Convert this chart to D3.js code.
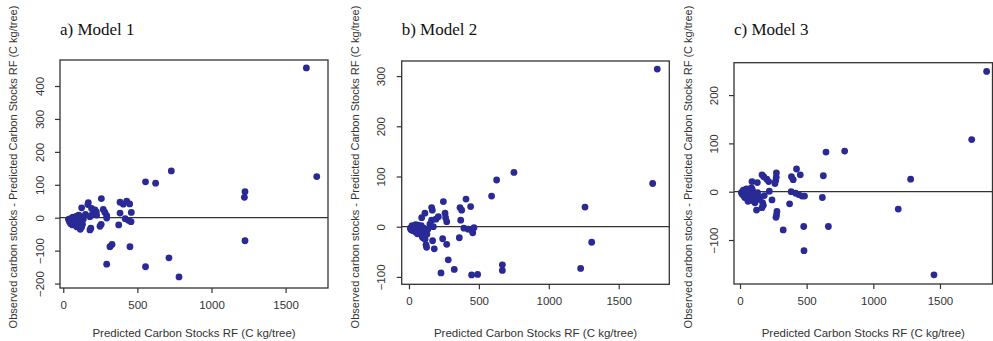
<!DOCTYPE html>
<html>
<head>
<meta charset="utf-8">
<script src="https://cdn.jsdelivr.net/npm/d3@7"></script>
<style>
  body { margin: 0; background: #fff; }
  svg { display: block; }
</style>
</head>
<body>
<svg id="chart" width="993" height="341"></svg>
<script>
// panel titles and axis labels
const titles = ["a) Model 1", "b) Model 2", "c) Model 3"];
const xLabel = "Predicted Carbon Stocks RF (C kg/tree)";
const yLabel = "Observed carbon stocks - Predicted Carbon Stocks RF (C kg/tree)";

// tick values
const xTicks = [0, 500, 1000, 1500];
const yTicksA = [-200, -100, 0, 100, 200, 300, 400];
const yTicksB = [-100, 0, 100, 200, 300];
const yTicksC = [-100, 0, 100, 200];

// [predicted, residual]
const residA = [[1640,455],[1710,125],[1226,79],[1222,62],[1226,-70],[729,142],[555,109],[623,105],
  [713,-122],[781,-180],[555,-149],[293,-141],[450,-88],[315,-88],[329,-81],
  [257,58],[169,46],[166,40],[124,30],[191,28],[214,24],[223,18],[270,25],[281,16],[293,6],[293,-1],
  [383,47],[405,41],[428,50],[448,42],[459,16],[383,14],[418,-3],[439,-8],[457,-12],[374,-22],
  [256,-20],[248,-26],[186,-32],[180,-37],[124,-28],[225,8],[180,3],[196,10],[150,10],
  [35,-5],[42,-12],[48,-3],[55,-15],[60,-8],[65,2],[70,-18],[75,-6],[80,-22],[85,-10],[90,5],
  [95,-14],[100,-3],[105,-25],[110,-30],[115,-8],[120,-16],[125,2],[130,-20],[135,-5],[50,-18],
  [62,-22],[78,-12],[92,-28],[105,8],[115,-35],[68,-10],[45,-8]];

const residB = [[1776,314],[1743,86],[1259,39],[1307,-31],[1228,-83],[751,108],[627,93],[591,61],
  [668,-76],[668,-87],[448,-96],[491,-95],[324,-85],[229,-92],[281,-66],
  [408,55],[441,40],[365,38],[377,33],[370,13],[393,-3],[424,-5],[448,-7],[465,-2],[456,-12],[360,-22],
  [246,50],[162,38],[167,33],[114,27],[91,18],[210,20],[193,15],[258,27],[262,18],[270,10],[162,13],
  [150,5],[174,0],[241,-24],[270,-35],[169,-28],[181,-44],[122,-36],[126,-41],
  [10,-3],[15,-6],[22,2],[28,-8],[35,-4],[40,1],[45,-10],[52,-2],[58,-6],[65,3],[70,-12],[78,-5],
  [85,-15],[90,-8],[95,-20],[100,-12],[105,-3],[110,-18],[115,-25],[120,-10],[128,-15],[135,-5],
  [60,-14],[30,0],[48,4],[100,-22],[88,2]];

const residC = [[1850,249],[1738,108],[1280,26],[1187,-36],[1455,-172],[785,84],[645,82],[625,33],
  [618,-12],[663,-72],[478,-72],[480,-122],[324,-79],
  [424,47],[386,31],[399,25],[452,35],[384,0],[418,-3],[440,-6],[465,-9],[484,-9],[372,-25],[240,-17],
  [273,39],[272,30],[268,23],[262,17],[277,-41],[274,-48],[270,-53],
  [165,35],[178,31],[201,26],[215,21],[130,19],[90,21],[220,1],[182,-8],[170,-23],[175,-28],[165,-33],
  [124,-38],[100,-17],[112,-23],
  [10,-2],[18,-6],[25,3],[30,-8],[38,2],[42,-4],[48,6],[52,-10],[58,-2],[62,4],[68,-14],[72,-6],[78,0],
  [82,-18],[88,-10],[92,5],[98,-4],[105,-12],[110,-20],[118,-6],[125,-14],[132,-2],[140,-10],[150,-16],
  [35,-12],[60,-20],[85,8],[20,0]];

const dotColor = "#2a2a96",
    axisColor = "#333";

// plot boxes in page pixels, with the axis domains they show
const panels = [
  {title: titles[0], data: residA, yTicks: yTicksA, box: {l: 60, r: 328, t: 60, b: 288},
   xDom: [-22, 1786], yDom: [-213.5, 479], yLabelX: 13},
  {title: titles[1], data: residB, yTicks: yTicksB, box: {l: 401.7, r: 669.3, t: 61, b: 284.3},
   xDom: [-52, 1862], yDom: [-114.7, 330], yLabelX: 355},
  {title: titles[2], data: residC, yTicks: yTicksC, box: {l: 734, r: 992.5, t: 62.7, b: 284},
   xDom: [-45, 1894], yDom: [-191, 267], yLabelX: 688}
];

const svg = d3.select("#chart");

function drawPanel(p) {
  const b = p.box;
  const x = d3.scaleLinear().domain(p.xDom).range([b.l, b.r]),
      y = d3.scaleLinear().domain(p.yDom).range([b.b, b.t]);

  const g = svg.append("g");

  // title
  g.append("text")
      .attr("x", b.l)
      .attr("y", 35)
      .attr("font-family", "'Liberation Serif', 'Times New Roman', serif")
      .attr("font-size", 17)
      .attr("fill", "#111")
      .text(p.title);

  // frame
  g.append("rect")
      .attr("x", b.l).attr("y", b.t)
      .attr("width", b.r - b.l).attr("height", b.b - b.t)
      .attr("fill", "none")
      .attr("stroke", axisColor)
      .attr("stroke-width", 1.3);

  // x axis
  const xa = g.append("g")
      .attr("transform", "translate(0," + b.b + ")")
      .call(d3.axisBottom(x).tickValues(xTicks).tickFormat(d3.format("d"))
        .tickSize(5).tickSizeOuter(0).tickPadding(8));
  xa.select(".domain").remove();

  // y axis, labels turned like in R
  const ya = g.append("g")
      .attr("transform", "translate(" + b.l + ",0)")
      .call(d3.axisLeft(y).tickValues(p.yTicks).tickFormat(d3.format("d"))
        .tickSize(5).tickSizeOuter(0));
  ya.select(".domain").remove();
  ya.selectAll("text")
      .attr("x", null).attr("dy", null)
      .attr("text-anchor", "middle")
      .attr("transform", "translate(-16.5,0) rotate(-90)");

  g.selectAll(".tick line").attr("stroke", axisColor).attr("stroke-width", 1.2);
  g.selectAll(".tick text")
      .attr("font-family", "'Liberation Sans', Arial, sans-serif")
      .attr("font-size", 11.5)
      .attr("fill", "#333");

  // zero line
  g.append("line")
      .attr("x1", b.l).attr("x2", b.r)
      .attr("y1", y(0)).attr("y2", y(0))
      .attr("stroke", axisColor)
      .attr("stroke-width", 1.3);

  // points
  g.selectAll("circle")
      .data(p.data)
      .enter().append("circle")
      .attr("cx", function(d) { return x(d[0]); })
      .attr("cy", function(d) { return y(d[1]); })
      .attr("r", 3.4)
      .attr("fill", dotColor);

  // axis titles
  g.append("text")
      .attr("x", (b.l + b.r) / 2)
      .attr("y", 337)
      .attr("text-anchor", "middle")
      .attr("font-family", "'Liberation Sans', Arial, sans-serif")
      .attr("font-size", 11.5)
      .attr("fill", "#333")
      .text(xLabel);

  g.append("text")
      .attr("transform", "translate(" + (p.yLabelX + 4) + ",167) rotate(-90)")
      .attr("text-anchor", "middle")
      .attr("font-family", "'Liberation Sans', Arial, sans-serif")
      .attr("font-size", 11)
      .attr("fill", "#333")
      .text(yLabel);
}

panels.forEach(drawPanel);
</script>
</body>
</html>
